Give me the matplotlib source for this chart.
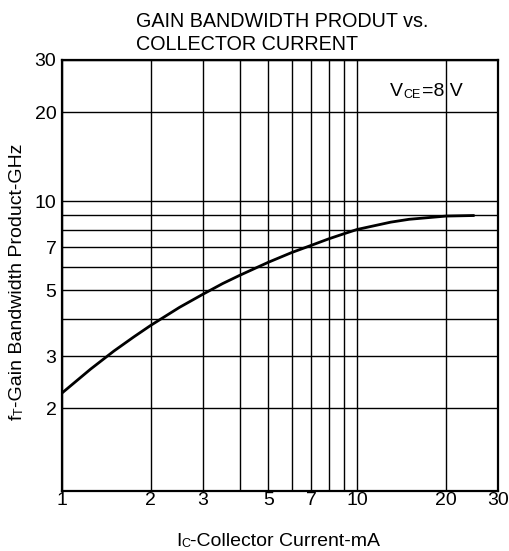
import numpy as np
import matplotlib
matplotlib.use('Agg')
import matplotlib.pyplot as plt

plt.rcParams['font.family'] = ['Liberation Sans', 'DejaVu Sans']

# curve
ic_ma = [1, 1.25, 1.5, 1.75, 2, 2.5, 3, 3.5, 4, 5, 6, 7, 8, 9, 10, 13, 15, 20, 25]
ft_ghz = [2.25, 2.71, 3.12, 3.48, 3.81, 4.38, 4.85, 5.27, 5.62, 6.22, 6.71, 7.10,
          7.46, 7.76, 8.03, 8.50, 8.69, 8.91, 8.95]

x_grid = [1, 2, 3, 4, 5, 6, 7, 8, 9, 10, 20, 30]
x_labels = ['1', '2', '3', '', '5', '', '7', '', '', '10', '20', '30']
y_grid = [2, 3, 4, 5, 6, 7, 8, 9, 10, 20, 30]
y_labels = ['2', '3', '', '5', '', '7', '', '', '10', '20', '30']

W, H = 509, 551
fs = 14

fig = plt.figure(figsize=(W / 100, H / 100), dpi=100)
ax = fig.add_axes([62 / W, 1 - 491 / H, 436 / W, 431 / H])
ax.set_xscale('log')
ax.set_yscale('log')
ax.set_xlim(1, 30)
ax.set_ylim(1.05, 30)

ax.set_xticks(x_grid)
ax.set_xticklabels(x_labels)
ax.set_yticks(y_grid)
ax.set_yticklabels(y_labels)
ax.minorticks_off()
ax.tick_params(axis='both', length=0, labelsize=fs, colors='black')
ax.tick_params(axis='x', pad=1)
ax.tick_params(axis='y', pad=4)
ax.grid(True, color='black', lw=1.0)
for s in ax.spines.values():
    s.set_linewidth(1.6)
    s.set_color('black')

ax.plot(ic_ma, ft_ghz, color='black', lw=2.0, solid_capstyle='butt', zorder=3)

# title
fig.text(136 / W, 1 - 27 / H, 'GAIN BANDWIDTH PRODUT vs.', fontsize=14.2,
         ha='left', va='baseline')
fig.text(136 / W, 1 - 50.5 / H, 'COLLECTOR CURRENT', fontsize=14.2,
         ha='left', va='baseline')

# V_CE annotation
tv = fig.text(390 / W, 1 - 96.5 / H, 'V', fontsize=fs, ha='left', va='baseline')
tce = ax.annotate('CE', xy=(1, 0), xycoords=tv, fontsize=9, ha='left', va='bottom')
ax.annotate('=8 V', xy=(1, 0), xycoords=(tce, tv), xytext=(1.5, 0),
            textcoords='offset points', fontsize=fs, ha='left', va='bottom')

# x label
tI = fig.text(176 / W, 1 - 546 / H, 'I', fontsize=fs, ha='left', va='baseline')
tC = ax.annotate('C', xy=(1, 0), xycoords=tI, fontsize=9, ha='left', va='bottom')
ax.annotate('-Collector Current-mA', xy=(1, 0), xycoords=(tC, tI),
            fontsize=fs, ha='left', va='bottom')

# y label
tf = fig.text(9 / W, 1 - 420 / H, 'f', fontsize=fs, rotation=90,
              ha='left', va='bottom')
tT = ax.annotate('T', xy=(1, 1), xycoords=tf, fontsize=9, rotation=90,
                 ha='right', va='bottom')
ax.annotate('-Gain Bandwidth Product-GHz', xy=(1, 1), xycoords=(tf, tT),
            fontsize=fs, rotation=90, ha='right', va='bottom')

fig.savefig('out.png', dpi=100)
